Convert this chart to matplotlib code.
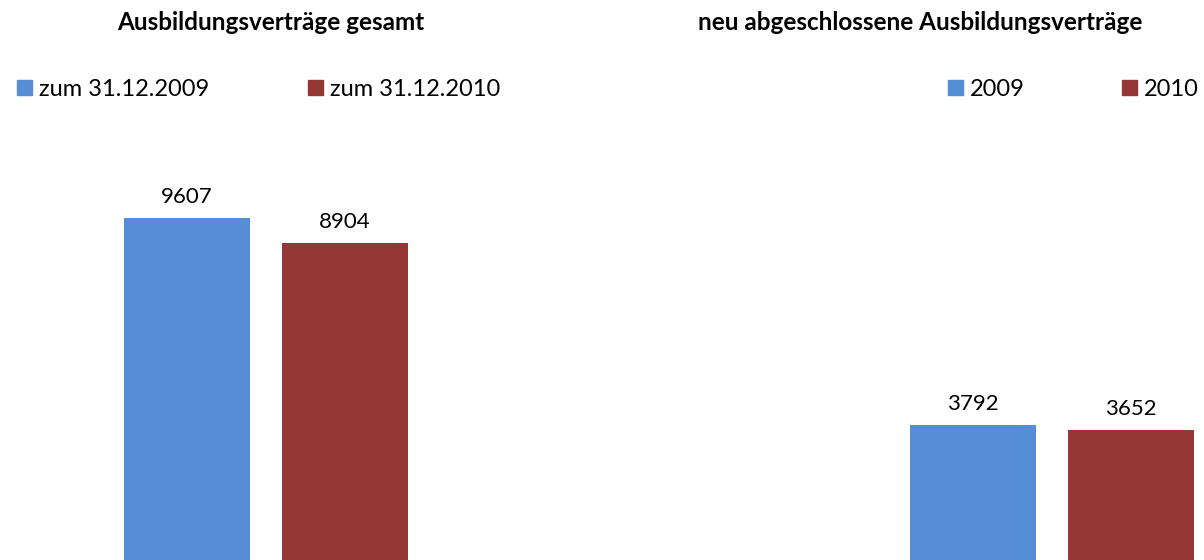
import matplotlib.pyplot as plt
from matplotlib.patches import Patch

plt.rcParams['font.family'] = ['Lato', 'DejaVu Sans']

# data
left_title = "Ausbildungsverträge gesamt"
left_labels = ["zum 31.12.2009", "zum 31.12.2010"]
left_values = [9607, 8904]

right_title = "neu abgeschlossene Ausbildungsverträge"
right_labels = ["2009", "2010"]
right_values = [3792, 3652]

colors = ["#558ed5", "#953735"]

W, H = 1204, 560
fig = plt.figure(figsize=(W / 100, H / 100), dpi=100)


def panel(left_px, values, labels, title, title_x, leg_xs):
    ax = fig.add_axes([left_px / W, 0, 316 / W, 427 / H])
    bars = ax.bar([0, 1], values, width=0.797, color=colors)
    ax.set_xlim(-0.5, 1.5)
    ax.set_ylim(0, 12000)
    ax.axis("off")
    for b, v in zip(bars, values):
        ax.annotate(str(v), (b.get_x() + b.get_width() / 2, v),
                    xytext=(0, 8), textcoords="offset points",
                    ha="center", va="bottom", fontsize=16)
    fig.text(title_x / W, 1 - 23 / H, title, ha="center", va="center",
             fontsize=17.5, fontweight="bold")
    for c, lab, lx in zip(colors, labels, leg_xs):
        fig.legend([Patch(color=c)], [lab], loc="center left",
                   bbox_to_anchor=(lx / W, 1 - 89 / H), frameon=False,
                   fontsize=17, handlelength=0.62, handleheight=0.62,
                   handletextpad=0.3, borderpad=0, borderaxespad=0)
    return ax


panel(108, left_values, left_labels, left_title, 271, [17, 308])
panel(894, right_values, right_labels, right_title, 920, [948, 1122])

fig.savefig("out.png", dpi=100)
